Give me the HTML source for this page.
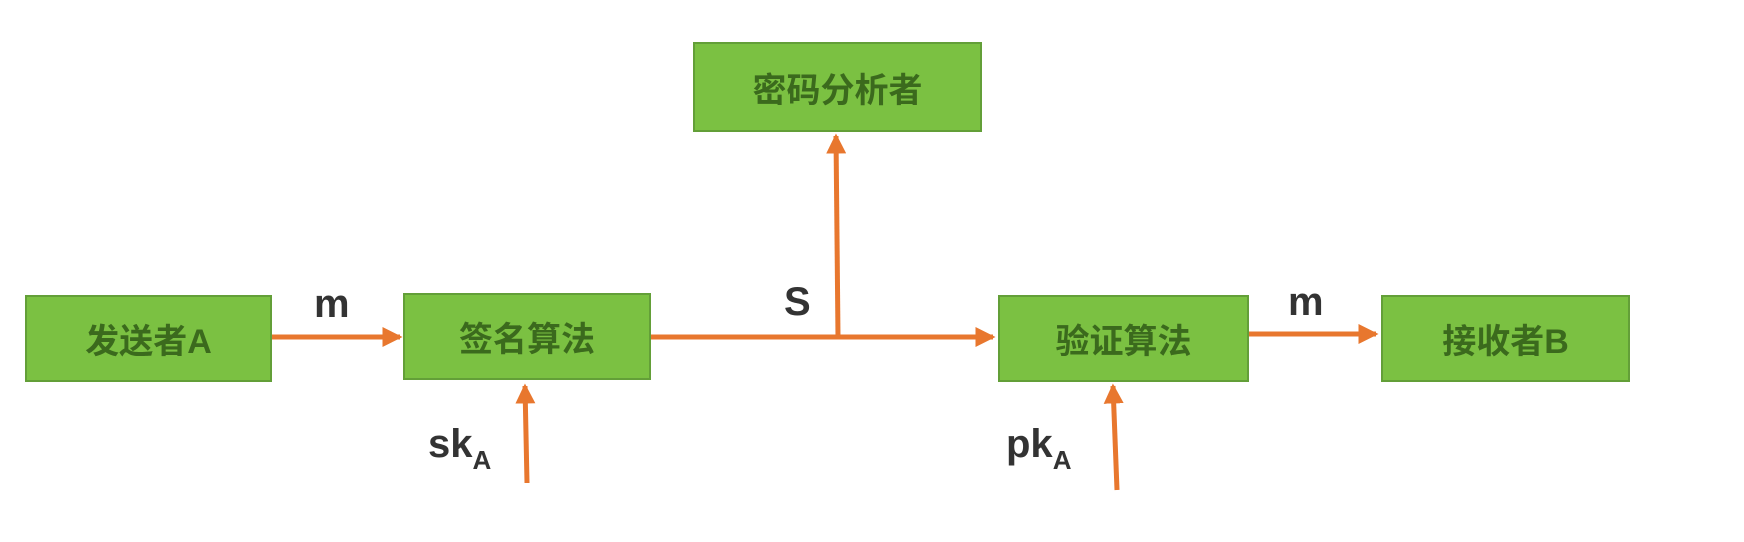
<!DOCTYPE html>
<html><head><meta charset="utf-8"><style>
body{margin:0;width:1744px;height:542px;background:#fff;overflow:hidden;position:relative;font-family:"Liberation Sans","Noto Sans CJK SC",sans-serif}
.b{position:absolute;background:#7bc142;border:2px solid #639f38;box-sizing:border-box;display:flex;align-items:center;justify-content:center;color:#3b6a1d;font-size:34px;font-weight:bold;font-family:"Liberation Sans","Noto Sans CJK SC",sans-serif}
.l{position:absolute;color:#333;font-weight:bold;font-size:40px}
</style></head><body>
<svg width="1744" height="542" style="position:absolute;left:0;top:0">
<defs><marker id="a" markerWidth="4" markerHeight="4" refX="3.5" refY="2" orient="auto"><path d="M0,0L4,2L0,4z" fill="#e8772e"/></marker></defs>
<g stroke="#e8772e" stroke-width="5" fill="none">
<line x1="272" y1="337" x2="400" y2="337" marker-end="url(#a)"/>
<line x1="651" y1="337" x2="993" y2="337" marker-end="url(#a)"/>
<line x1="1249" y1="334" x2="1376" y2="334" marker-end="url(#a)"/>
<line x1="838" y1="337" x2="836" y2="136" marker-end="url(#a)"/>
<line x1="527" y1="483" x2="525" y2="386" marker-end="url(#a)"/>
<line x1="1117" y1="490" x2="1113" y2="386" marker-end="url(#a)"/>
</g></svg>
<div class="b" style="left:25px;top:295px;width:247px;height:87px">发送者A</div>
<div class="b" style="left:403px;top:293px;width:248px;height:87px">签名算法</div>
<div class="b" style="left:998px;top:295px;width:251px;height:87px">验证算法</div>
<div class="b" style="left:1381px;top:295px;width:249px;height:87px">接收者B</div>
<div class="b" style="left:693px;top:42px;width:289px;height:90px">密码分析者</div>
<div class="l" style="left:314px;top:282px">m</div>
<div class="l" style="left:784px;top:280px">S</div>
<div class="l" style="left:1288px;top:280px">m</div>
<div class="l" style="left:428px;top:422px">sk<span style="font-size:26px;position:relative;top:12px">A</span></div>
<div class="l" style="left:1006px;top:422px">pk<span style="font-size:26px;position:relative;top:12px">A</span></div>
</body></html>
